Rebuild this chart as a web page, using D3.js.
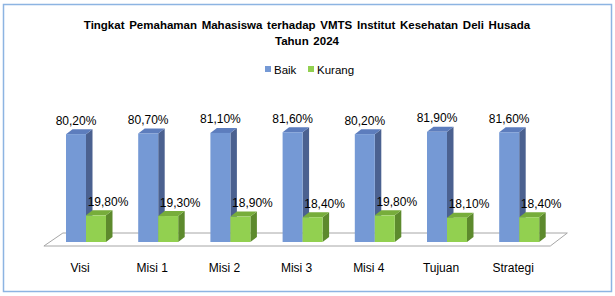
<!DOCTYPE html>
<html>
<head>
<meta charset="utf-8">
<script src="https://cdn.jsdelivr.net/npm/d3@7"></script>
<style>
  body { margin: 0; background: #fff; }
  svg { display: block; font-family: "Liberation Sans", Arial, sans-serif; }
</style>
</head>
<body>
<svg id="chart"></svg>
<script>
const categories = ["Visi", "Misi 1", "Misi 2", "Misi 3", "Misi 4", "Tujuan", "Strategi"];
const seriesNames = ["Baik", "Kurang"];
const baik = [80.2, 80.7, 81.1, 81.6, 80.2, 81.9, 81.6];
const kurang = [19.8, 19.3, 18.9, 18.4, 19.8, 18.1, 18.4];
const titleLines = ["Tingkat Pemahaman Mahasiswa terhadap VMTS Institut Kesehatan Deli Husada", "Tahun 2024"];

const width = 615, height = 296;
const colors = {
  Baik:   { front: "#7599d5", side: "#4b6190", top: "#5d7dbd" },
  Kurang: { front: "#92d050", side: "#5d8a2d", top: "#77ad3b" }
};
// depth of a bar and of the floor (3d offset)
const depth = { dx: 6.5, dy: -5 };

const svg = d3.select("#chart").attr("width", width).attr("height", height);

// chart border
svg.append("rect")
    .attr("x", 3.5).attr("y", 4.5)
    .attr("width", 608).attr("height", 287)
    .attr("fill", "#fff")
    .attr("stroke", "#8db4e2")
    .attr("stroke-width", 1.5);

// title
svg.append("g").selectAll("text")
    .data(titleLines)
    .join("text")
    .attr("x", 307)
    .attr("y", (d, i) => 28.5 + i * 16)
    .attr("text-anchor", "middle")
    .attr("font-weight", "bold")
    .attr("font-size", 11.5)
    .attr("word-spacing", 1.5)
    .text(d => d);

// legend
const legend = svg.append("g").selectAll("g")
    .data(seriesNames)
    .join("g")
    .attr("transform", (d, i) => `translate(${265 + i * 43},0)`);
legend.append("rect")
    .attr("x", 0).attr("y", 66).attr("width", 6).attr("height", 6)
    .attr("fill", d => colors[d].front);
legend.append("text")
    .attr("x", 9).attr("y", 73.5)
    .attr("font-size", 11.5)
    .text(d => d);

// scales
const x = d3.scaleBand()
    .domain(categories)
    .range([49.9, 555.3])
    .paddingInner(0.446)
    .paddingOuter(0.223);
const xSub = d3.scaleBand().domain(seriesNames).range([0, x.bandwidth()]);
const y = d3.scaleLinear().domain([0, 100]).range([242, 107.5]);

// floor
const r = x.range(), y0 = y(0);
const floor = [
  [r[0] - 6, y0 + 4], [r[1] - 5, y0 + 4],
  [r[1] + 12, y0 - 9], [r[0] + 13, y0 - 9]
];
svg.append("path")
    .attr("d", d3.line()(floor) + "Z")
    .attr("fill", "#fff")
    .attr("stroke", "#a6a6a6")
    .attr("stroke-width", 1);

// bars
const rows = [];
categories.forEach((c, i) => {
  rows.push({ cat: c, s: "Baik", v: baik[i] });
  rows.push({ cat: c, s: "Kurang", v: kurang[i] });
});

const bars = svg.append("g").selectAll("g")
    .data(rows)
    .join("g");

bars.each(function(d) {
  const g = d3.select(this);
  const x0 = x(d.cat) + xSub(d.s), w = xSub.bandwidth();
  const top = y(d.v), bot = y(0);
  const { dx, dy } = depth;
  // side
  g.append("path")
      .attr("d", `M${x0 + w},${bot}L${x0 + w},${top}L${x0 + w + dx},${top + dy}L${x0 + w + dx},${bot + dy}Z`)
      .attr("fill", colors[d.s].side);
  // top
  g.append("path")
      .attr("d", `M${x0},${top}L${x0 + w},${top}L${x0 + w + dx},${top + dy}L${x0 + dx},${top + dy}Z`)
      .attr("fill", colors[d.s].top);
  // front
  g.append("rect")
      .attr("x", x0).attr("y", top)
      .attr("width", w).attr("height", bot - top)
      .attr("fill", colors[d.s].front);
});

// value labels
svg.append("g").selectAll("text")
    .data(rows)
    .join("text")
    .attr("x", d => x(d.cat) + xSub(d.s) + xSub.bandwidth() / 2 + (d.s === "Kurang" ? 12 : 0))
    .attr("y", d => y(d.v) - 9.5)
    .attr("text-anchor", "middle")
    .attr("font-size", 12)
    .text(d => d3.format(".2f")(d.v).replace(".", ",") + "%");

// category labels
svg.append("g").selectAll("text")
    .data(categories)
    .join("text")
    .attr("x", d => x(d) + 14)
    .attr("y", 272)
    .attr("text-anchor", "middle")
    .attr("font-size", 12)
    .text(d => d);
</script>
</body>
</html>
